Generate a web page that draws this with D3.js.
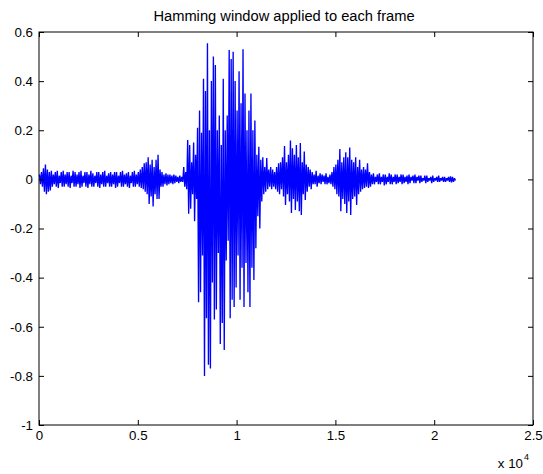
<!DOCTYPE html>
<html>
<head>
<meta charset="utf-8">
<script src="https://cdn.jsdelivr.net/npm/d3@7"></script>
<style>
  html, body { margin: 0; padding: 0; background: #fff; }
  svg { display: block; }
  text { font-family: Arial, "Liberation Sans", Helvetica, sans-serif; fill: #000; }
</style>
</head>
<body>
<svg id="chart" width="543" height="474"></svg>
<script>
// ---- data ----
const chartTitle = "Hamming window applied to each frame";
const hopSamples = 100; // each entry below covers 100 samples of the signal
// upper envelope (max) of the windowed signal in each 100-sample slice
const sliceMax = [
  0.02, 0.03, 0.045, 0.06, 0.04, 0.03, 0.035, 0.02, 0.03, 0.035,
  0.015, 0.03, 0.035, 0.02, 0.03, 0.03, 0.015, 0.035, 0.03, 0.02,
  0.03, 0.035, 0.015, 0.03, 0.03, 0.02, 0.035, 0.025, 0.015, 0.03,
  0.03, 0.02, 0.03, 0.035, 0.015, 0.025, 0.03, 0.02, 0.03, 0.03,
  0.015, 0.03, 0.035, 0.02, 0.025, 0.03, 0.015, 0.03, 0.035, 0.02,
  0.03, 0.04, 0.05, 0.066, 0.07, 0.09, 0.06, 0.08, 0.05, 0.08,
  0.1, 0.04, 0.03, 0.02, 0.025, 0.02, 0.02, 0.015, 0.02, 0.015,
  0.01, 0.015, 0.01, 0.05, 0.03, 0.16, 0.14, 0.07, 0.15, 0.1,
  0.21, 0.28, 0.19, 0.41, 0.36, 0.554, 0.2, 0.4, 0.5, 0.466,
  0.2, 0.26, 0.14, 0.41, 0.2, 0.26, 0.527, 0.49, 0.52, 0.4,
  0.28, 0.44, 0.31, 0.53, 0.35, 0.2, 0.28, 0.35, 0.2, 0.24,
  0.1, 0.133, 0.08, 0.09, 0.05, 0.087, 0.04, 0.05, 0.04, 0.03,
  0.05, 0.066, 0.07, 0.09, 0.136, 0.07, 0.1, 0.158, 0.127, 0.1,
  0.14, 0.09, 0.148, 0.07, 0.113, 0.06, 0.05, 0.04, 0.03, 0.02,
  0.035, 0.015, 0.025, 0.02, 0.015, 0.025, 0.01, 0.02, 0.03, 0.05,
  0.06, 0.08, 0.124, 0.07, 0.09, 0.11, 0.09, 0.13, 0.08, 0.07,
  0.09, 0.05, 0.08, 0.04, 0.05, 0.04, 0.066, 0.03, 0.02, 0.025,
  0.01, 0.02, 0.025, 0.01, 0.02, 0.02, 0.01, 0.025, 0.02, 0.01,
  0.02, 0.02, 0.01, 0.02, 0.02, 0.01, 0.015, 0.02, 0.01, 0.015,
  0.02, 0.01, 0.015, 0.015, 0.005, 0.015, 0.015, 0.005, 0.01, 0.015,
  0.005, 0.01, 0.015, 0.005, 0.01, 0.01, 0.005, 0.01, 0.012, 0.01,
  0.005
];
// lower envelope (min) of the windowed signal in each 100-sample slice
const sliceMin = [
  -0.02, -0.03, -0.05, -0.06, -0.05, -0.045, -0.03, -0.02, -0.03, -0.035,
  -0.015, -0.03, -0.03, -0.02, -0.03, -0.035, -0.015, -0.03, -0.03, -0.02,
  -0.035, -0.03, -0.015, -0.03, -0.035, -0.02, -0.03, -0.03, -0.015, -0.03,
  -0.035, -0.02, -0.03, -0.03, -0.015, -0.03, -0.03, -0.02, -0.035, -0.03,
  -0.015, -0.03, -0.03, -0.02, -0.03, -0.035, -0.015, -0.03, -0.03, -0.02,
  -0.03, -0.035, -0.04, -0.05, -0.06, -0.1, -0.07, -0.11, -0.06, -0.08,
  -0.08, -0.03, -0.03, -0.02, -0.025, -0.02, -0.015, -0.02, -0.015, -0.01,
  -0.015, -0.01, -0.01, -0.03, -0.04, -0.14, -0.12, -0.06, -0.17, -0.08,
  -0.5, -0.46, -0.31, -0.8, -0.565, -0.755, -0.77, -0.42, -0.57, -0.53,
  -0.3, -0.67, -0.585, -0.695, -0.33, -0.25, -0.565, -0.49, -0.52, -0.44,
  -0.31, -0.49, -0.36, -0.52, -0.34, -0.46, -0.52, -0.36, -0.41, -0.28,
  -0.15, -0.2, -0.09, -0.06, -0.05, -0.04, -0.03, -0.04, -0.03, -0.04,
  -0.05, -0.06, -0.04, -0.07, -0.104, -0.06, -0.09, -0.137, -0.08, -0.125,
  -0.09, -0.13, -0.145, -0.06, -0.084, -0.05, -0.03, -0.04, -0.02, -0.02,
  -0.03, -0.015, -0.02, -0.01, -0.02, -0.02, -0.015, -0.02, -0.03, -0.04,
  -0.06, -0.07, -0.13, -0.08, -0.1, -0.137, -0.09, -0.145, -0.08, -0.07,
  -0.104, -0.06, -0.05, -0.04, -0.035, -0.03, -0.035, -0.03, -0.02, -0.02,
  -0.01, -0.02, -0.02, -0.01, -0.025, -0.02, -0.01, -0.02, -0.02, -0.01,
  -0.02, -0.015, -0.01, -0.02, -0.015, -0.01, -0.02, -0.015, -0.005, -0.015,
  -0.015, -0.005, -0.015, -0.01, -0.005, -0.015, -0.01, -0.005, -0.015, -0.01,
  -0.005, -0.01, -0.01, -0.005, -0.01, -0.01, -0.005, -0.01, -0.012, -0.01,
  -0.005
];
const xTickValues = [0, 5000, 10000, 15000, 20000, 25000];
const xTickLabels = ["0", "0.5", "1", "1.5", "2", "2.5"];
const yTickValues = [0.6, 0.4, 0.2, 0, -0.2, -0.4, -0.6, -0.8, -1];
const yTickLabels = ["0.6", "0.4", "0.2", "0", "-0.2", "-0.4", "-0.6", "-0.8", "-1"];
const xDomain = [0, 25000];
const yDomain = [-1, 0.6];

// ---- drawing ----
const svg = d3.select("#chart");
const plot = { left: 39, right: 533, top: 32, bottom: 425 };
const x = d3.scaleLinear().domain(xDomain).range([plot.left, plot.right]);
const y = d3.scaleLinear().domain(yDomain).range([plot.bottom, plot.top]);
const tickFont = 13.3;
const titleFont = 14.7;

svg.append("rect").attr("width", 543).attr("height", 474).attr("fill", "#fff");

// waveform: zig-zag through max/min of every slice
const pts = [];
sliceMax.forEach((hi, i) => {
  pts.push([i * hopSamples + hopSamples * 0.25, hi]);
  pts.push([i * hopSamples + hopSamples * 0.75, sliceMin[i]]);
});
const line = d3.line().x(d => x(d[0])).y(d => y(d[1]));
svg.append("path")
  .datum(pts)
  .attr("d", line)
  .attr("fill", "none")
  .attr("stroke", "#0000ff")
  .attr("stroke-width", 1.35)
  .attr("stroke-linejoin", "miter")
  .attr("stroke-miterlimit", 2);

// axes
const tickLen = 5;
const fmtX = (d) => xTickLabels[xTickValues.indexOf(d)];
const fmtY = (d) => yTickLabels[yTickValues.indexOf(d)];

const gx = svg.append("g").attr("transform", `translate(0,${plot.bottom})`)
  .call(d3.axisBottom(x).tickValues(xTickValues).tickFormat(fmtX)
    .tickSizeInner(-tickLen).tickSizeOuter(0).tickPadding(6));
const gxt = svg.append("g").attr("transform", `translate(0,${plot.top})`)
  .call(d3.axisTop(x).tickValues(xTickValues).tickFormat("")
    .tickSizeInner(-tickLen).tickSizeOuter(0));
const gy = svg.append("g").attr("transform", `translate(${plot.left},0)`)
  .call(d3.axisLeft(y).tickValues(yTickValues).tickFormat(fmtY)
    .tickSizeInner(-tickLen).tickSizeOuter(0).tickPadding(6));
const gyr = svg.append("g").attr("transform", `translate(${plot.right},0)`)
  .call(d3.axisRight(y).tickValues(yTickValues).tickFormat("")
    .tickSizeInner(-tickLen).tickSizeOuter(0));

[gx, gxt, gy, gyr].forEach(g => {
  g.select(".domain").remove();
  g.selectAll(".tick line").attr("stroke", "#000").attr("stroke-width", 1);
  g.selectAll("text").attr("font-size", tickFont).attr("fill", "#000")
    .style("font-family", 'Arial, "Liberation Sans", Helvetica, sans-serif');
});

// box
svg.append("rect")
  .attr("x", plot.left).attr("y", plot.top)
  .attr("width", plot.right - plot.left).attr("height", plot.bottom - plot.top)
  .attr("fill", "none").attr("stroke", "#000").attr("stroke-width", 1);

// exponent label
svg.append("text")
  .attr("x", 523).attr("y", 468)
  .attr("text-anchor", "end").attr("font-size", tickFont)
  .text("x 10");
svg.append("text")
  .attr("x", 524).attr("y", 460)
  .attr("font-size", 9)
  .text("4");

// title
svg.append("text")
  .attr("x", 284).attr("y", 21)
  .attr("text-anchor", "middle").attr("font-size", titleFont)
  .text(chartTitle);
</script>
</body>
</html>
